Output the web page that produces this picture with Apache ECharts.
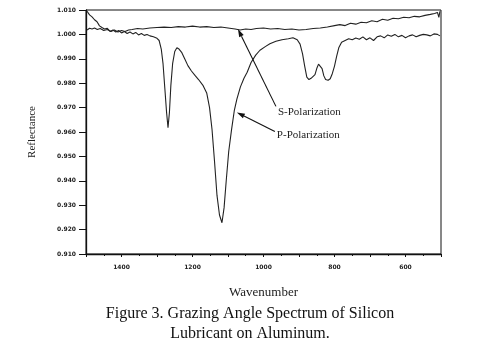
<!DOCTYPE html>
<html><head><meta charset="utf-8">
<script src="https://cdn.jsdelivr.net/npm/echarts@6/dist/echarts.min.js"></script>
<style>html,body{margin:0;padding:0;background:#fff}#c{width:479px;height:351px}</style>
</head><body><div id="c"></div>
<script>
// Wavenumber (cm-1) vs reflectance
const pPolarization = [[1497,1.0095],[1490,1.0080],[1483,1.0072],[1476,1.0060],[1469,1.0052],[1462,1.0035],[1455,1.0028],[1448,1.0022],[1440,1.0025],[1432,1.0012],[1424,1.0018],[1416,1.0010],[1408,1.0016],[1400,1.0006],[1392,1.0012],[1384,1.0004],[1376,1.0010],[1368,1.0002],[1360,1.0008],[1352,0.9998],[1344,1.0004],[1336,0.9996],[1328,1.0000],[1320,0.9994],[1310,0.9990],[1300,0.9984],[1294,0.9975],[1288,0.9940],[1283,0.9880],[1278,0.9780],[1273,0.9680],[1269,0.9618],[1265,0.9680],[1261,0.9790],[1256,0.9880],[1250,0.9930],[1244,0.9945],[1238,0.9940],[1230,0.9925],[1222,0.9900],[1213,0.9872],[1203,0.9850],[1193,0.9832],[1183,0.9815],[1170,0.9790],[1160,0.9760],[1152,0.9700],[1145,0.9610],[1138,0.9480],[1131,0.9340],[1124,0.9260],[1117,0.9228],[1111,0.9290],[1105,0.9400],[1098,0.9520],[1090,0.9610],[1082,0.9690],[1075,0.9735],[1065,0.9785],[1055,0.9820],[1046,0.9845],[1035,0.9885],[1022,0.9915],[1010,0.9935],[995,0.9950],[982,0.9962],[965,0.9972],[948,0.9978],[930,0.9982],[917,0.9986],[905,0.9978],[897,0.9960],[890,0.9920],[884,0.9870],[878,0.9825],[872,0.9815],[866,0.9820],[861,0.9812],[855,0.9835],[850,0.9860],[845,0.9878],[840,0.9880],[835,0.9860],[830,0.9830],[825,0.9815],[818,0.9812],[812,0.9818],[806,0.9840],[800,0.9870],[794,0.9910],[788,0.9945],[780,0.9968],[770,0.9975],[760,0.9982],[750,0.9978],[740,0.9985],[730,0.9980],[720,0.9990],[710,0.9978],[700,0.9986],[690,0.9975],[680,0.9990],[670,0.9994],[660,0.9986],[650,0.9998],[640,0.9992],[630,1.0000],[620,0.9990],[610,0.9996],[600,0.9986],[590,0.9994],[580,0.9998],[570,0.9990],[560,0.9996],[550,1.0000],[540,0.9998],[530,0.9994],[520,1.0002],[510,1.0000],[503,0.9994]];
const sPolarization = [[1497,1.0018],[1490,1.0025],[1483,1.0022],[1476,1.0026],[1468,1.0020],[1460,1.0024],[1450,1.0016],[1440,1.0020],[1430,1.0012],[1420,1.0018],[1410,1.0010],[1400,1.0016],[1390,1.0012],[1380,1.0018],[1370,1.0020],[1355,1.0024],[1340,1.0022],[1320,1.0026],[1300,1.0028],[1280,1.0030],[1260,1.0028],[1240,1.0032],[1220,1.0030],[1200,1.0034],[1180,1.0030],[1160,1.0032],[1140,1.0028],[1120,1.0030],[1100,1.0026],[1080,1.0022],[1066,1.0018],[1050,1.0022],[1035,1.0020],[1020,1.0024],[1000,1.0026],[980,1.0022],[960,1.0024],[940,1.0020],[920,1.0022],[900,1.0018],[880,1.0020],[860,1.0024],[840,1.0026],[820,1.0030],[800,1.0036],[785,1.0040],[770,1.0036],[755,1.0046],[740,1.0042],[725,1.0050],[710,1.0048],[695,1.0056],[680,1.0052],[665,1.0062],[650,1.0058],[635,1.0066],[620,1.0064],[605,1.0070],[590,1.0068],[575,1.0074],[560,1.0072],[545,1.0078],[530,1.0082],[518,1.0086],[510,1.0090],[506,1.0070],[503,1.0095]];
const xTickLabels = [1400, 1200, 1000, 800, 600];
const yTickLabels = ['1.010','1.000','0.990','0.980','0.970','0.960','0.950','0.940','0.930','0.920','0.910'];
// annotation arrows: [tail, head] in data coordinates
const sArrow = [[965, 0.9705], [1072, 1.0022]];
const pArrow = [[968, 0.9602], [1075, 0.9680]];

const chart = echarts.init(document.getElementById('c'));
const lineStyle = {color: '#222', width: 1.1};
chart.setOption({
  animation: false,
  backgroundColor: '#fff',
  grid: {left: 86, right: 38, top: 10, bottom: 97, show: true, borderColor: '#111', borderWidth: 1, backgroundColor: 'transparent'},
  xAxis: {
    type: 'value', inverse: true, min: 500, max: 1500, interval: 100,
    name: 'Wavenumber', nameLocation: 'middle', nameGap: 32,
    nameTextStyle: {fontFamily: 'Liberation Serif', fontSize: 13, color: '#222'},
    axisLine: {lineStyle: {color: '#111', width: 1.3}},
    axisTick: {show: true, length: 3, lineStyle: {color: '#111'}},
    minorTick: {show: true, splitNumber: 2, length: 2, lineStyle: {color: '#111'}},
    splitLine: {show: false},
    axisLabel: {fontSize: 6, fontWeight: 'bold', color: '#222', margin: 10, fontFamily: 'DejaVu Sans',
      formatter: v => xTickLabels.includes(v) ? String(v) : ''}
  },
  yAxis: {
    type: 'value', min: 0.91, max: 1.01, interval: 0.01,
    name: 'Reflectance', nameLocation: 'middle', nameGap: 48,
    nameTextStyle: {fontFamily: 'Liberation Serif', fontSize: 11, color: '#222'},
    axisLine: {lineStyle: {color: '#111', width: 1.3}},
    axisTick: {show: true, length: 7, lineStyle: {color: '#111'}},
    splitLine: {show: false},
    axisLabel: {fontSize: 6, fontWeight: 'bold', color: '#222', margin: 10, fontFamily: 'DejaVu Sans',
      formatter: v => { const i = Math.round((1.01 - v) / 0.01); return yTickLabels[i] || ''; }}
  },
  series: [
    {name: 'P-Polarization', type: 'line', data: pPolarization, showSymbol: false, lineStyle, smooth: false},
    {name: 'S-Polarization', type: 'line', data: sPolarization, showSymbol: false, lineStyle, smooth: false}
  ]
});

function arrowGraphics(arrow, label, dy) {
  const t = chart.convertToPixel({gridIndex: 0}, arrow[0]);
  const h = chart.convertToPixel({gridIndex: 0}, arrow[1]);
  const ang = Math.atan2(h[1] - t[1], h[0] - t[0]);
  const L = 8, W = 2.5;
  const bx = h[0] - L * Math.cos(ang), by = h[1] - L * Math.sin(ang);
  const px = -Math.sin(ang) * W, py = Math.cos(ang) * W;
  return [
    {type: 'line', shape: {x1: t[0], y1: t[1], x2: bx, y2: by}, style: {stroke: '#111', lineWidth: 1.1}, z: 10},
    {type: 'polygon', shape: {points: [[h[0], h[1]], [bx + px, by + py], [bx - px, by - py]]}, style: {fill: '#111'}, z: 10},
    {type: 'text', x: t[0] + 2, y: t[1] + dy, style: {text: label, font: '11px "Liberation Serif"', fill: '#222', textVerticalAlign: 'middle'}, z: 10}
  ];
}
chart.setOption({
  graphic: [
    ...arrowGraphics(sArrow, 'S-Polarization', 6),
    ...arrowGraphics(pArrow, 'P-Polarization', 4),
    {type: 'text', x: 250, y: 314, style: {text: 'Figure 3. Grazing Angle Spectrum of Silicon', font: '16px "Liberation Serif"', fill: '#111', textAlign: 'center', textVerticalAlign: 'middle'}},
    {type: 'text', x: 250, y: 334, style: {text: 'Lubricant on Aluminum.', font: '16px "Liberation Serif"', fill: '#111', textAlign: 'center', textVerticalAlign: 'middle'}}
  ]
});
</script></body></html>
